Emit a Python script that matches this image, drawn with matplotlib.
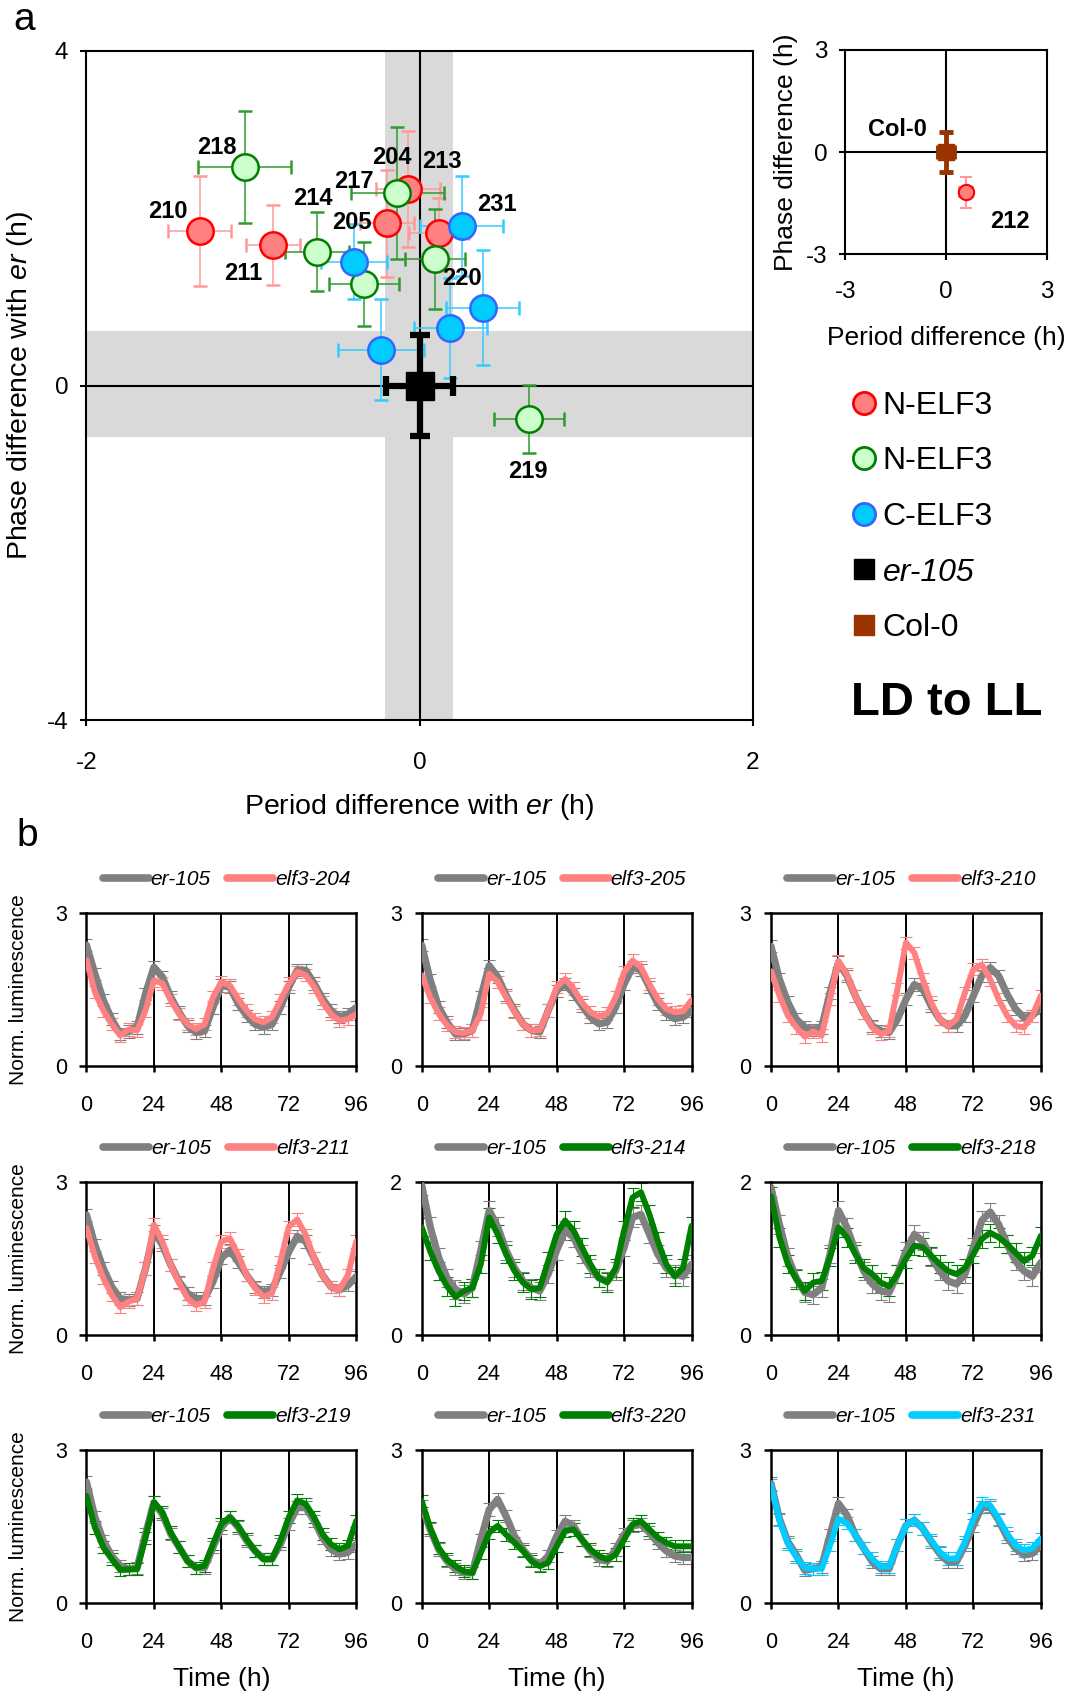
import matplotlib.pyplot as plt
from matplotlib.lines import Line2D
import numpy as np

plt.rcParams['font.family'] = ['Liberation Sans', 'DejaVu Sans']
plt.rcParams['mathtext.fontset'] = 'custom'
plt.rcParams['mathtext.it'] = 'Liberation Sans:italic'
plt.rcParams['mathtext.rm'] = 'Liberation Sans'
plt.rcParams['axes.unicode_minus'] = False

# ================= Panel a: period / phase difference vs er-105 =================
# N-ELF3 lines (red)
red_period = [-1.32, -0.88, -0.195, -0.07, 0.114]
red_phase = [1.85, 1.68, 1.94, 2.35, 1.82]
red_period_err = [0.19, 0.16, 0.16, 0.19, 0.18]
red_phase_err = [0.66, 0.48, 0.64, 0.69, 0.42]

# N-ELF3 lines (green)
green_period = [-1.05, -0.616, -0.133, 0.094, -0.335, 0.66]
green_phase = [2.61, 1.60, 2.30, 1.51, 1.21, -0.40]
green_period_err = [0.28, 0.19, 0.28, 0.18, 0.21, 0.21]
green_phase_err = [0.67, 0.47, 0.79, 0.60, 0.50, 0.41]

# C-ELF3 lines (blue)
blue_period = [0.252, -0.393, 0.38, 0.185, -0.231]
blue_phase = [1.91, 1.48, 0.93, 0.69, 0.43]
blue_period_err = [0.25, 0.20, 0.22, 0.22, 0.26]
blue_phase_err = [0.60, 0.45, 0.69, 0.60, 0.60]

# er-105 reference (and its SD range, drawn as grey bands)
er_period, er_phase = 0.0, 0.0
er_period_err, er_phase_err = 0.2, 0.6
band_period = (-0.21, 0.20)
band_phase = (-0.61, 0.65)

# inset: Col-0 background
col_period, col_phase = 0.0, 0.0
col_period_err, col_phase_err = 0.25, 0.6
l212_period, l212_phase = 0.6, -1.18
l212_period_err, l212_phase_err = 0.2, 0.45

# ================= Panel b: luminescence traces =================
TIME = np.arange(0, 97, 3)

er105_204 = [2.37, 1.81, 1.29, 0.92, 0.63, 0.68, 0.76, 1.42, 1.94, 1.75, 1.35, 1.05, 0.79, 0.66, 0.69, 1.15, 1.58,
             1.55, 1.22, 0.99, 0.82, 0.76, 0.82, 1.15, 1.55, 1.88, 1.88, 1.62, 1.32, 1.09, 0.96, 1.02, 1.15]
elf3_204 = [2.08, 1.45, 1.09, 0.82, 0.60, 0.72, 0.70, 1.09, 1.68, 1.62, 1.29, 1.02, 0.82, 0.73, 0.82, 1.35, 1.65,
            1.58, 1.32, 1.09, 0.92, 0.86, 0.96, 1.29, 1.62, 1.85, 1.78, 1.55, 1.25, 1.02, 0.89, 0.92, 1.02]
er105_205 = [2.37, 1.69, 1.16, 0.86, 0.63, 0.63, 0.70, 1.35, 1.97, 1.75, 1.39, 1.09, 0.83, 0.70, 0.67, 1.09, 1.48,
             1.61, 1.42, 1.19, 0.96, 0.83, 0.86, 1.16, 1.61, 1.94, 1.88, 1.55, 1.22, 1.03, 0.93, 0.96, 1.09]
elf3_205 = [1.78, 1.35, 1.03, 0.80, 0.67, 0.65, 0.70, 1.03, 1.81, 1.65, 1.35, 1.06, 0.83, 0.70, 0.71, 1.09, 1.55,
            1.71, 1.52, 1.25, 1.06, 0.97, 1.03, 1.35, 1.84, 2.07, 1.94, 1.61, 1.32, 1.12, 1.06, 1.08, 1.29]
er105_210 = [2.35, 1.70, 1.25, 0.92, 0.76, 0.71, 0.76, 1.44, 2.03, 1.77, 1.38, 1.05, 0.79, 0.69, 0.66, 0.92, 1.31,
             1.60, 1.51, 1.18, 0.92, 0.79, 0.79, 0.99, 1.38, 1.77, 1.93, 1.77, 1.41, 1.12, 0.95, 0.99, 1.15]
elf3_210 = [1.86, 1.38, 0.99, 0.76, 0.58, 0.68, 0.60, 1.31, 2.06, 1.80, 1.38, 1.05, 0.76, 0.63, 0.69, 1.51, 2.42,
            2.22, 1.70, 1.25, 0.92, 0.79, 0.92, 1.44, 1.90, 1.99, 1.70, 1.31, 0.99, 0.79, 0.76, 0.99, 1.38]
er105_211 = [2.36, 1.77, 1.31, 0.95, 0.72, 0.69, 0.72, 1.31, 2.04, 1.77, 1.38, 1.05, 0.82, 0.72, 0.72, 1.05, 1.51,
             1.67, 1.44, 1.18, 0.95, 0.85, 0.89, 1.25, 1.64, 1.94, 1.84, 1.51, 1.18, 0.95, 0.89, 0.98, 1.15]
elf3_211 = [2.10, 1.54, 1.12, 0.79, 0.55, 0.66, 0.72, 1.31, 2.17, 1.84, 1.38, 1.02, 0.72, 0.59, 0.66, 1.31, 1.84,
            1.90, 1.58, 1.18, 0.92, 0.76, 0.82, 1.44, 2.13, 2.27, 1.97, 1.51, 1.18, 0.95, 0.89, 1.18, 1.84]
er105_214 = [1.96, 1.42, 1.02, 0.75, 0.60, 0.54, 0.62, 1.11, 1.63, 1.42, 1.11, 0.88, 0.71, 0.62, 0.58, 0.80, 1.11,
             1.37, 1.28, 1.06, 0.88, 0.75, 0.71, 0.84, 1.15, 1.54, 1.58, 1.32, 1.06, 0.88, 0.80, 0.77, 0.93]
elf3_214 = [1.41, 1.10, 0.84, 0.64, 0.50, 0.58, 0.62, 0.93, 1.54, 1.32, 1.06, 0.84, 0.69, 0.60, 0.62, 0.97, 1.32,
            1.50, 1.37, 1.15, 0.93, 0.75, 0.69, 0.88, 1.37, 1.80, 1.87, 1.58, 1.23, 0.93, 0.77, 0.88, 1.43]
er105_218 = [1.93, 1.45, 1.02, 0.75, 0.56, 0.53, 0.62, 1.06, 1.63, 1.41, 1.10, 0.84, 0.67, 0.58, 0.56, 0.80, 1.10,
             1.32, 1.23, 1.02, 0.84, 0.71, 0.67, 0.80, 1.15, 1.50, 1.61, 1.45, 1.19, 0.97, 0.84, 0.77, 0.95]
elf3_218 = [1.82, 1.28, 0.93, 0.73, 0.58, 0.69, 0.71, 1.02, 1.41, 1.28, 1.06, 0.88, 0.80, 0.69, 0.64, 0.80, 1.00,
            1.17, 1.15, 1.04, 0.93, 0.84, 0.80, 0.88, 1.06, 1.26, 1.34, 1.28, 1.19, 1.08, 0.97, 1.04, 1.30]
er105_219 = [2.38, 1.69, 1.23, 0.93, 0.74, 0.67, 0.70, 1.36, 1.98, 1.75, 1.36, 1.10, 0.83, 0.70, 0.70, 1.10, 1.49,
             1.69, 1.49, 1.23, 1.03, 0.87, 0.87, 1.16, 1.56, 1.88, 1.88, 1.62, 1.29, 1.06, 0.97, 1.00, 1.16]
elf3_219 = [2.11, 1.49, 1.10, 0.87, 0.66, 0.67, 0.67, 1.29, 1.98, 1.79, 1.39, 1.10, 0.83, 0.70, 0.74, 1.16, 1.56,
            1.69, 1.52, 1.26, 1.03, 0.87, 0.87, 1.23, 1.69, 2.02, 1.95, 1.69, 1.36, 1.16, 1.06, 1.13, 1.62]
er105_220 = [1.91, 1.45, 1.06, 0.83, 0.67, 0.60, 0.60, 1.25, 1.84, 2.04, 1.71, 1.32, 1.06, 0.86, 0.76, 0.93, 1.32,
             1.61, 1.52, 1.25, 1.03, 0.86, 0.83, 1.06, 1.35, 1.52, 1.55, 1.39, 1.19, 1.03, 0.93, 0.90, 0.90]
elf3_220 = [2.01, 1.48, 1.09, 0.86, 0.73, 0.63, 0.60, 0.99, 1.39, 1.52, 1.35, 1.19, 1.03, 0.83, 0.73, 0.80, 1.12,
            1.42, 1.45, 1.25, 1.06, 0.93, 0.86, 0.96, 1.25, 1.55, 1.61, 1.45, 1.29, 1.19, 1.12, 1.12, 1.12]
er105_231 = [2.35, 1.66, 1.21, 0.95, 0.65, 0.68, 0.72, 1.34, 1.96, 1.73, 1.34, 1.08, 0.82, 0.68, 0.68, 1.14, 1.53,
             1.63, 1.47, 1.21, 0.98, 0.82, 0.82, 1.14, 1.53, 1.89, 1.89, 1.63, 1.30, 1.08, 0.95, 0.98, 1.14]
elf3_231 = [2.32, 1.63, 1.17, 0.91, 0.70, 0.68, 0.68, 1.14, 1.66, 1.57, 1.34, 1.08, 0.88, 0.72, 0.72, 1.14, 1.53,
            1.63, 1.47, 1.24, 1.01, 0.88, 0.88, 1.21, 1.66, 1.96, 1.92, 1.66, 1.37, 1.14, 1.04, 1.08, 1.27]
SEM = 0.12

PINK, GREEN, CYAN, GREY = '#FF8080', '#008000', '#00CCFF', '#808080'
panels = [
    ('elf3-204', er105_204, elf3_204, PINK, 3), ('elf3-205', er105_205, elf3_205, PINK, 3),
    ('elf3-210', er105_210, elf3_210, PINK, 3), ('elf3-211', er105_211, elf3_211, PINK, 3),
    ('elf3-214', er105_214, elf3_214, GREEN, 2), ('elf3-218', er105_218, elf3_218, GREEN, 2),
    ('elf3-219', er105_219, elf3_219, GREEN, 3), ('elf3-220', er105_220, elf3_220, GREEN, 3),
    ('elf3-231', er105_231, elf3_231, CYAN, 3),
]

fig = plt.figure(figsize=(10.77, 16.95), dpi=100)

# ---------------- main scatter ----------------
ax = fig.add_axes([0.0803, 0.5751, 0.6185, 0.3949])
ax.axvspan(*band_period, color='#D9D9D9', lw=0, zorder=0)
ax.axhspan(*band_phase, color='#D9D9D9', lw=0, zorder=0)
ax.axhline(0, color='k', lw=1.5, zorder=1)
ax.axvline(0, color='k', lw=1.5, zorder=1)

groups = [
    (red_period, red_phase, red_period_err, red_phase_err, '#FF8080', '#FF0000', '#FF9999'),
    (green_period, green_phase, green_period_err, green_phase_err, '#CCFFCC', '#008000', '#2E9B2E'),
    (blue_period, blue_phase, blue_period_err, blue_phase_err, '#00CCFF', '#3366FF', '#33CCFF'),
]
for px, py, ex, ey, fc, ec, erc in groups:
    ax.errorbar(px, py, xerr=ex, yerr=ey, fmt='o', ms=19, mfc=fc, mec=ec, mew=1.8,
                ecolor=erc, elinewidth=1.1, capsize=5, capthick=1.1, zorder=3)
ax.errorbar([er_period], [er_phase], xerr=er_period_err, yerr=er_phase_err, fmt='s', ms=20,
            color='k', elinewidth=4.5, capsize=7, capthick=4.5, zorder=4)

point_labels = [('218', -1.22, 2.84), ('210', -1.51, 2.08), ('211', -1.06, 1.34), ('214', -0.64, 2.24),
                ('217', -0.395, 2.44), ('204', -0.166, 2.73), ('213', 0.135, 2.68), ('205', -0.406, 1.95),
                ('231', 0.463, 2.16), ('220', 0.255, 1.28), ('219', 0.648, -1.03)]
for name, tx, ty in point_labels:
    ax.text(tx, ty, name, fontsize=17, fontweight='bold', ha='center', va='center', zorder=5)

ax.set_xlim(-2, 2)
ax.set_ylim(-4, 4)
ax.set_xticks([-2, 0, 2])
ax.set_yticks([-4, 0, 4])
ax.tick_params(axis='x', direction='out', length=4, width=1.5, pad=19, labelsize=17.5)
ax.tick_params(axis='y', direction='out', length=4, width=1.5, pad=9, labelsize=17.5)
for s in ax.spines.values():
    s.set_linewidth(1.5)
ax.set_xlabel(r'Period difference with $\mathit{er}$ (h)', fontsize=20.5)
ax.set_ylabel(r'Phase difference with $\mathit{er}$ (h)', fontsize=20.5)
ax.xaxis.set_label_coords(0.5, -0.107)
ax.yaxis.set_label_coords(-0.077, 0.5)

# ---------------- inset: Col-0 background ----------------
axi = fig.add_axes([0.785, 0.850, 0.1867, 0.1206])
axi.axhline(0, color='k', lw=1.5, zorder=1)
axi.axvline(0, color='k', lw=1.5, zorder=1)
axi.errorbar([col_period], [col_phase], xerr=col_period_err, yerr=col_phase_err, fmt='s', ms=12,
             color='#993300', elinewidth=3.5, capsize=5, capthick=3.5, zorder=3)
axi.errorbar([l212_period], [l212_phase], xerr=l212_period_err, yerr=l212_phase_err, fmt='o', ms=11,
             mfc='#FF8080', mec='#FF0000', mew=1.5, ecolor='#FF9999', elinewidth=1.5, capsize=4,
             capthick=1.5, zorder=3)
axi.text(-1.45, 0.66, 'Col-0', fontsize=17, fontweight='bold', ha='center', va='center')
axi.text(1.9, -2.04, '212', fontsize=17, fontweight='bold', ha='center', va='center')
axi.set_xlim(-3, 3)
axi.set_ylim(-3, 3)
axi.set_xticks([-3, 0, 3])
axi.set_yticks([-3, 0, 3])
axi.tick_params(axis='x', direction='out', length=4, width=1.5, pad=15, labelsize=17.5)
axi.tick_params(axis='y', direction='out', length=4, width=1.5, pad=9, labelsize=17.5)
for s in axi.spines.values():
    s.set_linewidth(1.5)
axi.set_xlabel('Period difference (h)', fontsize=19)
axi.set_ylabel('Phase difference (h)', fontsize=19)
axi.xaxis.set_label_coords(0.5, -0.349)
axi.yaxis.set_label_coords(-0.237, 0.5)

# ---------------- legend for panel a ----------------
handles = [
    Line2D([], [], ls='none', marker='o', ms=16, mfc='#FF8080', mec='#FF0000', mew=2),
    Line2D([], [], ls='none', marker='o', ms=16, mfc='#CCFFCC', mec='#008000', mew=2),
    Line2D([], [], ls='none', marker='o', ms=16, mfc='#00CCFF', mec='#3366FF', mew=2),
    Line2D([], [], ls='none', marker='s', ms=15, color='k'),
    Line2D([], [], ls='none', marker='s', ms=15, color='#993300'),
]
leg = fig.legend(handles, ['N-ELF3', 'N-ELF3', 'C-ELF3', 'er-105', 'Col-0'], loc='upper left',
                 bbox_to_anchor=(0.787, 0.7694), frameon=False, fontsize=23, handlelength=1.0,
                 handletextpad=0.1, labelspacing=0.8, borderpad=0, borderaxespad=0)
leg.get_texts()[3].set_style('italic')
fig.text(0.879, 0.5853, 'LD to LL', fontsize=34, fontweight='bold', ha='center', va='center')

fig.text(0.022, 0.988, 'a', fontsize=28, ha='center', va='center')
fig.text(0.025, 0.507, 'b', fontsize=28, ha='center', va='center')

# ---------------- panel b: 3x3 traces ----------------
col_left = [0.0803, 0.3916, 0.7159]
row_bottom = [0.371, 0.2122, 0.054]
for i, (name, ctrl, mut, color, ymax) in enumerate(panels):
    r, c = divmod(i, 3)
    axp = fig.add_axes([col_left[c], row_bottom[r], 0.2505, 0.0903])
    for x in (24, 48, 72):
        axp.axvline(x, color='k', lw=1.4, zorder=1)
    axp.errorbar(TIME, ctrl, yerr=SEM, fmt='none', ecolor=GREY, elinewidth=0.8, capsize=4,
                 capthick=0.8, zorder=2)
    axp.errorbar(TIME, mut, yerr=SEM, fmt='none', ecolor=color, elinewidth=0.8, capsize=4,
                 capthick=0.8, zorder=2)
    axp.plot(TIME, ctrl, color=GREY, lw=5.2, solid_capstyle='round', solid_joinstyle='round',
             label='er-105', zorder=3)
    axp.plot(TIME, mut, color=color, lw=4.3, solid_capstyle='round', solid_joinstyle='round',
             label=name, zorder=4)
    axp.set_xlim(0, 96)
    axp.set_ylim(0, ymax)
    axp.set_xticks([0, 24, 48, 72, 96])
    axp.set_yticks([0, ymax])
    axp.tick_params(axis='x', direction='out', length=4, width=1.8, pad=16.5, labelsize=15.5)
    axp.tick_params(axis='y', direction='out', length=5, width=1.8, pad=9, labelsize=15.5)
    for s in axp.spines.values():
        s.set_linewidth(1.8)
    lg = axp.legend(loc='center', bbox_to_anchor=(0.52, 1.22), ncol=2, frameon=False,
                    handlelength=2.2, handletextpad=0.1, columnspacing=0.8, borderpad=0,
                    prop={'style': 'italic', 'size': 15})
    for ln in lg.get_lines():
        ln.set_linewidth(5.5)
    if c == 0:
        axp.set_ylabel('Norm. luminescence', fontsize=15)
        axp.yaxis.set_label_coords(-0.217, 0.5)
    if r == 2:
        axp.set_xlabel('Time (h)', fontsize=19)
        axp.xaxis.set_label_coords(0.5, -0.414)

fig.savefig('out.png', dpi=100)
